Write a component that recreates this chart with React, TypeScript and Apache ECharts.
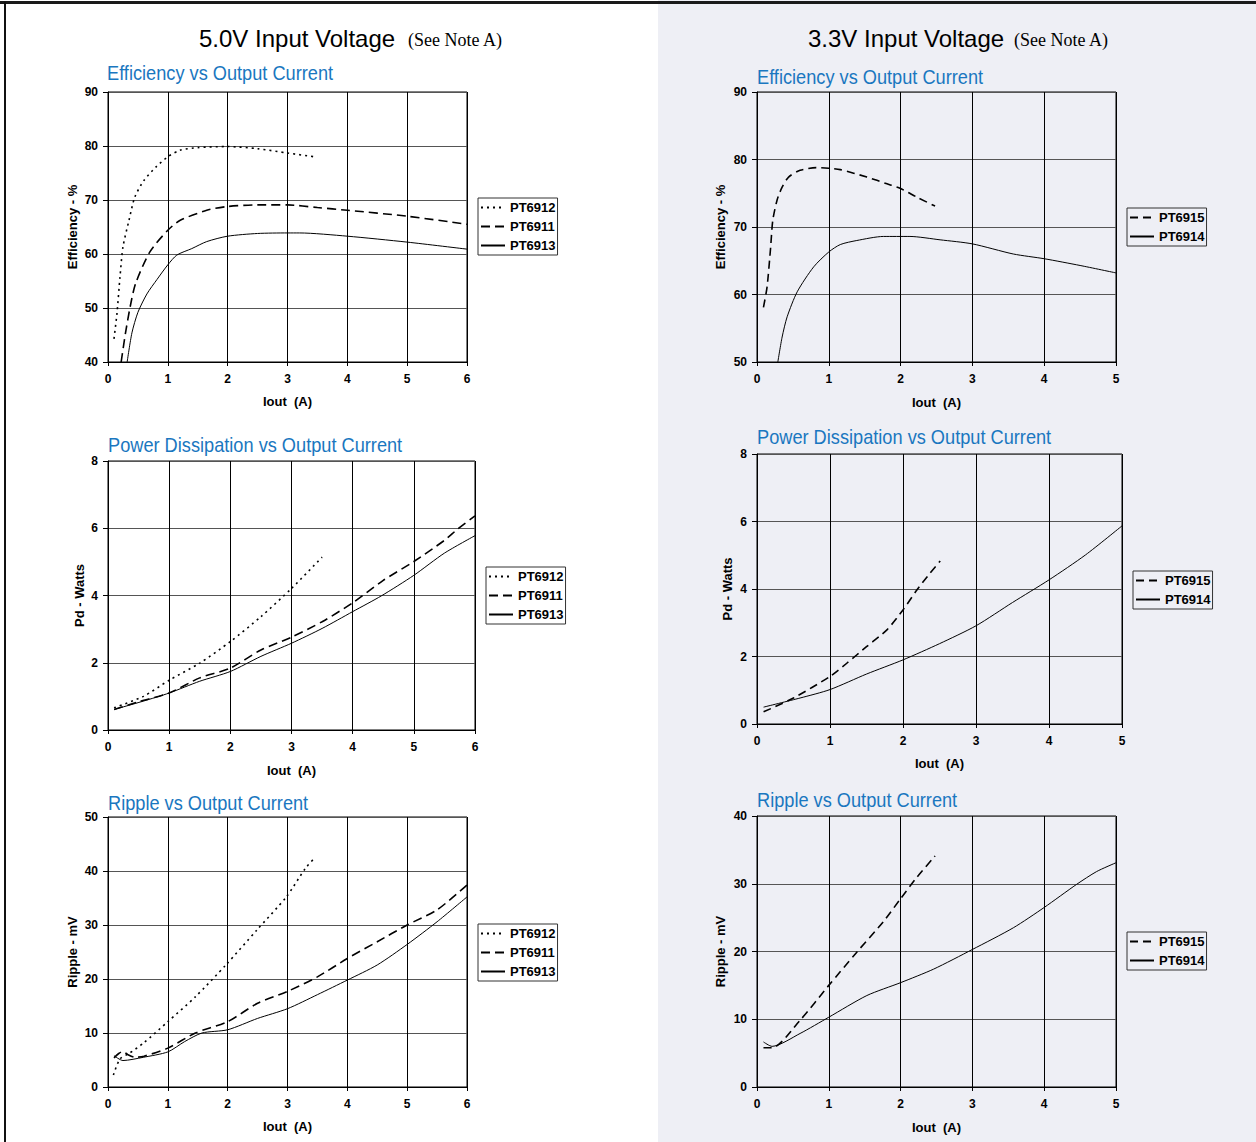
import React, { useEffect, useRef } from "react";
import * as echarts from "echarts";

// ---------- DATA ----------
// Efficiency (%) vs Iout (A) — 5.0V input
const eff5_PT6912 = [[0.1, 44.3], [0.15, 49], [0.2, 55.7], [0.25, 61.3], [0.35, 66.2], [0.45, 70.6], [0.6, 73.6], [0.8, 76.1], [1.0, 78], [1.2, 79.2], [1.5, 79.7], [2.0, 79.9], [2.5, 79.5], [3.0, 78.7], [3.45, 78.0]];
const eff5_PT6911 = [[0.22, 40], [0.29, 45.2], [0.37, 50.2], [0.46, 54.5], [0.7, 60.4], [1.0, 64.4], [1.2, 66.2], [1.65, 68.1], [2.0, 68.8], [2.5, 69.1], [3.0, 69.1], [3.5, 68.6], [4.0, 68.1], [5.0, 67.0], [6.0, 65.5]];
const eff5_PT6913 = [[0.32, 40], [0.4, 45.4], [0.5, 49.2], [0.65, 52.6], [0.82, 55.3], [1.0, 58.0], [1.15, 59.8], [1.4, 61.0], [1.65, 62.3], [2.0, 63.3], [2.5, 63.8], [3.0, 63.9], [3.2, 63.9], [4.0, 63.3], [5.0, 62.2], [6.0, 60.9]];
// Efficiency — 3.3V input
const eff3_PT6915 = [[0.09, 58.1], [0.14, 61.1], [0.19, 67], [0.22, 71], [0.28, 74], [0.35, 75.9], [0.44, 77.4], [0.6, 78.4], [0.83, 78.8], [1.0, 78.7], [1.16, 78.5], [1.53, 77.4], [1.81, 76.4], [2.0, 75.7], [2.23, 74.4], [2.48, 73.1]];
const eff3_PT6914 = [[0.29, 50], [0.35, 53.7], [0.42, 56.7], [0.56, 60.4], [0.79, 64.1], [1.0, 66.3], [1.16, 67.4], [1.39, 68], [1.76, 68.6], [2.13, 68.6], [2.55, 68.1], [3.0, 67.5], [3.57, 66], [4.0, 65.3], [4.5, 64.3], [5.0, 63.2]];
// Power dissipation (W) — 5.0V input
const pd5_PT6912 = [[0.1, 0.66], [0.58, 1.0], [1.0, 1.48], [1.5, 1.99], [2.0, 2.63], [2.5, 3.37], [3.0, 4.21], [3.5, 5.14]];
const pd5_PT6911 = [[0.1, 0.61], [0.5, 0.84], [1.0, 1.1], [1.5, 1.55], [2.0, 1.84], [2.5, 2.38], [3.0, 2.76], [3.5, 3.22], [4.0, 3.78], [4.5, 4.45], [5.0, 5.01], [5.5, 5.64], [5.72, 5.98], [6.0, 6.37]];
const pd5_PT6913 = [[0.1, 0.61], [0.58, 0.86], [1.0, 1.1], [1.5, 1.45], [2.0, 1.74], [2.5, 2.19], [3.0, 2.58], [3.5, 3.02], [4.0, 3.52], [4.47, 3.99], [5.0, 4.6], [5.5, 5.26], [6.0, 5.78]];
// Power dissipation — 3.3V input
const pd3_PT6915 = [[0.09, 0.36], [0.5, 0.77], [1.0, 1.41], [1.23, 1.8], [1.5, 2.29], [1.78, 2.79], [2.0, 3.38], [2.19, 3.97], [2.37, 4.47], [2.51, 4.83]];
const pd3_PT6914 = [[0.09, 0.5], [0.59, 0.77], [1.0, 1.02], [1.5, 1.48], [2.0, 1.9], [2.5, 2.38], [3.0, 2.91], [3.5, 3.6], [4.0, 4.27], [4.5, 5.01], [5.0, 5.87]];
// Ripple (mV) — 5.0V input
const rip5_PT6912 = [[0.09, 2.2], [0.2, 5.2], [0.35, 6.2], [0.59, 8.1], [1.0, 12.1], [1.46, 16.7], [1.97, 22.6], [2.49, 29.1], [2.98, 35.2], [3.3, 40.5], [3.47, 42.6]];
const rip5_PT6911 = [[0.1, 5.4], [0.18, 6.2], [0.25, 6.6], [0.33, 6.0], [0.45, 5.5], [0.6, 5.7], [1.0, 7.2], [1.46, 10], [2.0, 12.1], [2.5, 15.5], [3.0, 17.7], [3.5, 20.4], [4.0, 23.8], [4.5, 26.9], [5.0, 30], [5.5, 32.8], [6.0, 37.4]];
const rip5_PT6913 = [[0.1, 5.8], [0.25, 4.9], [0.59, 5.5], [1.0, 6.5], [1.28, 8.4], [1.57, 10], [2.0, 10.6], [2.5, 12.7], [3.0, 14.5], [3.5, 17.1], [4.0, 19.8], [4.5, 22.6], [5.0, 26.4], [5.5, 30.6], [6.0, 35.2]];
// Ripple — 3.3V input
const rip3_PT6915 = [[0.09, 5.8], [0.21, 5.8], [0.6, 9.85], [1.0, 15], [1.39, 19.9], [1.76, 24.4], [2.0, 27.8], [2.23, 31], [2.48, 34.1]];
const rip3_PT6914 = [[0.09, 6.65], [0.21, 6.0], [0.6, 7.9], [1.0, 10.3], [1.53, 13.5], [2.0, 15.4], [2.46, 17.4], [3.0, 20.3], [3.57, 23.5], [4.0, 26.5], [4.45, 29.9], [4.73, 31.8], [5.0, 33.1]];

// Axis ranges
const xMax5 = 6;
const xMax3 = 5;
const effRange5 = [40, 90, 10];
const effRange3 = [50, 90, 10];
const pdRange = [0, 8, 2];
const ripRange5 = [0, 50, 10];
const ripRange3 = [0, 40, 10];

const legend5 = ["PT6912", "PT6911", "PT6913"];
const legend3 = ["PT6915", "PT6914"];

const panelTitle5 = "5.0V Input Voltage";
const panelTitle3 = "3.3V Input Voltage";
const noteText = "(See Note A)";
const subEff = "Efficiency vs Output Current";
const subPd = "Power Dissipation vs Output Current";
const subRip = "Ripple vs Output Current";
const xName = "Iout  (A)";

// ---------- STYLE ----------
const FONT = '"Liberation Sans", Arial, Helvetica, sans-serif';
const BLUE = "#1a77c0";

const lineStyles: Record<string, any> = {
  PT6912: { color: "#000", width: 1.6, type: [2, 4] },
  PT6911: { color: "#000", width: 1.6, type: [9, 5] },
  PT6915: { color: "#000", width: 1.6, type: [8, 5] },
  PT6913: { color: "#000", width: 1, type: "solid" },
  PT6914: { color: "#000", width: 1, type: "solid" },
};

const grids = [
  { left: 108, top: 92, width: 359, height: 270 },
  { left: 757, top: 92, width: 359, height: 270 },
  { left: 108, top: 461, width: 367, height: 269 },
  { left: 757, top: 454, width: 365, height: 270 },
  { left: 108, top: 817, width: 359, height: 270 },
  { left: 757, top: 816, width: 359, height: 271 },
];

function makeX(i: number, max: number, gap: number) {
  return {
    type: "value",
    gridIndex: i,
    min: 0,
    max,
    interval: 1,
    name: xName,
    nameLocation: "middle",
    nameGap: gap,
    nameTextStyle: { fontWeight: "bold", fontSize: 13, color: "#000", fontFamily: FONT },
    axisLine: { show: true, onZero: false, lineStyle: { color: "#000", width: 1 } },
    axisTick: { show: true, length: 4, lineStyle: { color: "#000" } },
    axisLabel: { color: "#000", fontWeight: "bold", fontSize: 12, margin: 11, fontFamily: FONT },
    splitLine: { show: true, lineStyle: { color: "#000", width: 1 } },
  };
}

function makeY(i: number, r: number[], name: string, gap: number) {
  return {
    type: "value",
    gridIndex: i,
    min: r[0],
    max: r[1],
    interval: r[2],
    name,
    nameLocation: "middle",
    nameGap: gap,
    nameTextStyle: { fontWeight: "bold", fontSize: 13, color: "#000", fontFamily: FONT },
    axisLine: { show: true, onZero: false, lineStyle: { color: "#000", width: 1 } },
    axisTick: { show: true, length: 5, lineStyle: { color: "#000" } },
    axisLabel: { color: "#000", fontWeight: "bold", fontSize: 12, margin: 10, fontFamily: FONT },
    splitLine: { show: true, lineStyle: { color: "#555", width: 1.2 } },
  };
}

function makeSeries(name: string, data: number[][], i: number) {
  return {
    type: "line",
    name,
    xAxisIndex: i,
    yAxisIndex: i,
    data,
    symbol: "none",
    smooth: 0.25,
    lineStyle: lineStyles[name],
    itemStyle: { color: "#000" },
    silent: true,
  };
}

function makeLegend(names: string[], left: number, top: number) {
  return {
    orient: "vertical",
    left,
    top,
    data: names,
    itemWidth: 24,
    itemHeight: 14,
    itemGap: 6,
    padding: [3, 2, 3, 2],
    borderColor: "#333",
    borderWidth: 1,
    selectedMode: false,
    itemStyle: { opacity: 0 },
    textStyle: { fontWeight: "bold", fontSize: 13, color: "#000", fontFamily: FONT },
  };
}

function subTitle(text: string, x: number, y: number) {
  return {
    type: "text",
    x,
    y,
    scaleX: 0.91,
    scaleY: 1,
    style: {
      text,
      fill: BLUE,
      font: `normal 20px ${FONT}`,
      textAlign: "left",
      textVerticalAlign: "middle",
      align: "left",
      verticalAlign: "middle",
    },
  };
}

function plainText(text: string, x: number, y: number, font: string) {
  return {
    type: "text",
    x,
    y,
    style: {
      text,
      fill: "#000",
      font,
      textAlign: "left",
      textVerticalAlign: "middle",
      align: "left",
      verticalAlign: "middle",
    },
  };
}

export default function App() {
  const ref = useRef<HTMLDivElement>(null);

  useEffect(() => {
    if (!ref.current) return;
    const chart = echarts.init(ref.current, undefined, { renderer: "svg" });
    const option: any = {
      animation: false,
      backgroundColor: "transparent",
      textStyle: { fontFamily: FONT },
      grid: grids.map((g) => ({ ...g, show: true, borderColor: "#000", borderWidth: 1, backgroundColor: "transparent", containLabel: false })),
      xAxis: [
        makeX(0, xMax5, 33),
        makeX(1, xMax3, 34),
        makeX(2, xMax5, 34),
        makeX(3, xMax3, 33),
        makeX(4, xMax5, 33),
        makeX(5, xMax3, 34),
      ],
      yAxis: [
        makeY(0, effRange5, "Efficiency - %", 29),
        makeY(1, effRange3, "Efficiency - %", 30),
        makeY(2, pdRange, "Pd - Watts", 22),
        makeY(3, pdRange, "Pd - Watts", 23),
        makeY(4, ripRange5, "Ripple - mV", 29),
        makeY(5, ripRange3, "Ripple - mV", 30),
      ],
      legend: [
        makeLegend(legend5, 478, 198),
        makeLegend(legend3, 1127, 208),
        makeLegend(legend5, 486, 567),
        makeLegend(legend3, 1133, 571),
        makeLegend(legend5, 478, 924),
        makeLegend(legend3, 1127, 932),
      ],
      series: [
        makeSeries("PT6912", eff5_PT6912, 0),
        makeSeries("PT6911", eff5_PT6911, 0),
        makeSeries("PT6913", eff5_PT6913, 0),
        makeSeries("PT6915", eff3_PT6915, 1),
        makeSeries("PT6914", eff3_PT6914, 1),
        makeSeries("PT6912", pd5_PT6912, 2),
        makeSeries("PT6911", pd5_PT6911, 2),
        makeSeries("PT6913", pd5_PT6913, 2),
        makeSeries("PT6915", pd3_PT6915, 3),
        makeSeries("PT6914", pd3_PT6914, 3),
        makeSeries("PT6912", rip5_PT6912, 4),
        makeSeries("PT6911", rip5_PT6911, 4),
        makeSeries("PT6913", rip5_PT6913, 4),
        makeSeries("PT6915", rip3_PT6915, 5),
        makeSeries("PT6914", rip3_PT6914, 5),
      ],
      graphic: [
        plainText(panelTitle5, 199, 38, `normal 24px ${FONT}`),
        plainText(noteText, 408, 40, `normal 18px "Liberation Serif", "Times New Roman", serif`),
        plainText(panelTitle3, 808, 38, `normal 24px ${FONT}`),
        plainText(noteText, 1014, 40, `normal 18px "Liberation Serif", "Times New Roman", serif`),
        subTitle(subEff, 107, 73),
        subTitle(subEff, 757, 77),
        subTitle(subPd, 108, 445),
        subTitle(subPd, 757, 437),
        subTitle(subRip, 108, 803),
        subTitle(subRip, 757, 800),
      ],
    };
    chart.setOption(option);
    return () => chart.dispose();
  }, []);

  return (
    <div style={{ position: "absolute", left: 0, top: 0, width: 1256, height: 1142, background: "#fff", overflow: "hidden" }}>
      <div style={{ position: "absolute", left: 658, top: 0, width: 598, height: 1142, background: "#eeeff5" }} />
      <div style={{ position: "absolute", left: 0, top: 1, width: 1256, height: 3, background: "#1a1a1a" }} />
      <div style={{ position: "absolute", left: 4, top: 2, width: 2, height: 1140, background: "#111" }} />
      <div ref={ref} style={{ position: "absolute", left: 0, top: 0, width: 1256, height: 1142 }} />
    </div>
  );
}
